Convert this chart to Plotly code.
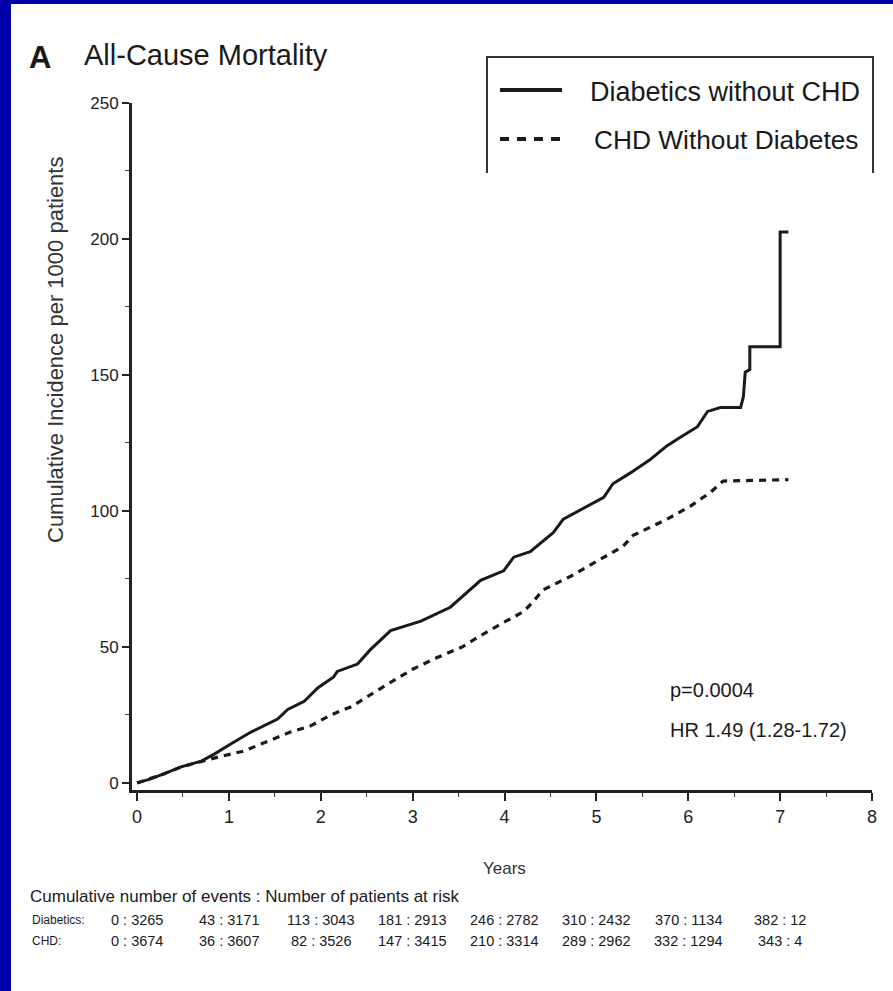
import plotly.graph_objects as go

# Cumulative incidence (per 1000 patients)
years_diab = [0.00, 0.15, 0.29, 0.48, 0.70, 0.84, 1.02, 1.24, 1.53, 1.64, 1.82, 1.97,
              2.14, 2.18, 2.40, 2.54, 2.76, 3.09, 3.41, 3.74, 3.99, 4.10, 4.28, 4.53,
              4.64, 4.86, 5.08, 5.18, 5.37, 5.59, 5.77, 5.91, 6.10, 6.21, 6.35, 6.57,
              6.60, 6.62, 6.67, 6.67, 7.00, 7.00, 7.09]
inc_diab = [0.0, 1.5, 3.3, 5.9, 8.0, 10.6, 14.3, 18.7, 23.5, 27.0, 30.0, 35.0,
            39.0, 41.0, 43.7, 49.0, 56.0, 59.5, 64.6, 74.5, 78.0, 83.0, 85.0, 92.0,
            97.0, 101.0, 105.0, 110.0, 114.0, 119.0, 124.0, 127.0, 131.0, 136.6, 138.0, 138.0,
            142.0, 151.0, 152.0, 160.4, 160.4, 202.6, 202.6]

years_chd = [0.00, 0.29, 0.48, 0.70, 0.88, 1.16, 1.42, 1.67, 1.89, 2.11, 2.33, 2.54,
             2.76, 3.00, 3.26, 3.54, 3.73, 3.99, 4.21, 4.32, 4.42, 4.72, 5.01, 5.29,
             5.40, 5.77, 6.02, 6.24, 6.38, 7.09]
inc_chd = [0.0, 3.3, 5.9, 8.0, 9.5, 11.7, 15.4, 18.7, 21.0, 25.0, 28.0, 32.5,
           37.0, 41.8, 46.0, 50.0, 54.0, 59.0, 63.0, 67.0, 71.0, 76.0, 81.5, 87.0,
           91.0, 97.0, 101.7, 106.8, 111.0, 111.5]

x_ticks = [0, 1, 2, 3, 4, 5, 6, 7, 8]
y_ticks = [0, 50, 100, 150, 200, 250]

# Numbers at risk table
risk_years = [0, 1, 2, 3, 4, 5, 6, 7]
diab_events = [0, 43, 113, 181, 246, 310, 370, 382]
diab_at_risk = [3265, 3171, 3043, 2913, 2782, 2432, 1134, 12]
chd_events = [0, 36, 82, 147, 210, 289, 332, 343]
chd_at_risk = [3674, 3607, 3526, 3415, 3314, 2962, 1294, 4]

series_names = ["Diabetics without CHD", "CHD Without Diabetes"]

W, H = 893, 991
L, R, T, B = 132, 21, 103, 201
PW, PH = W - L - R, H - T - B
FONT = "Liberation Sans, Arial, sans-serif"
INK = "#1a1a1a"
BLUE = "#0000A8"


def px(x):
    return (x - L) / PW


def py(y):
    return (H - B - y) / PH


fig = go.Figure()
fig.add_trace(go.Scatter(x=years_diab, y=inc_diab, mode="lines", name=series_names[0],
                         line=dict(color=INK, width=3)))
fig.add_trace(go.Scatter(x=years_chd, y=inc_chd, mode="lines", name=series_names[1],
                         line=dict(color=INK, width=3.2, dash="7px,6px")))

shapes = []
# slide frame: blue strips along the left and top edges
shapes.append(dict(type="rect", xref="paper", yref="paper", x0=px(0), x1=px(11),
                   y0=py(H), y1=py(0), fillcolor=BLUE, line=dict(width=0)))
shapes.append(dict(type="rect", xref="paper", yref="paper", x0=px(0), x1=px(W),
                   y0=py(4), y1=py(0), fillcolor=BLUE, line=dict(width=0)))
# legend frame (open at the bottom)
shapes.append(dict(type="path", xref="paper", yref="paper",
                   path=f"M {px(487)},{py(173)} L {px(487)},{py(57)} L {px(873)},{py(57)} L {px(873)},{py(173)}",
                   line=dict(color="#333333", width=2)))
# legend line samples
shapes.append(dict(type="line", xref="paper", yref="paper", x0=px(500), x1=px(562),
                   y0=py(90), y1=py(90), line=dict(color=INK, width=4)))
shapes.append(dict(type="line", xref="paper", yref="paper", x0=px(500), x1=px(562),
                   y0=py(139), y1=py(139), line=dict(color=INK, width=4, dash="9px,8px")))

ann = []
ann.append(dict(text="<b>A</b>", x=px(27), y=py(58), xref="paper", yref="paper",
                xanchor="left", yanchor="middle", showarrow=False,
                font=dict(family=FONT, size=31, color=INK)))
ann.append(dict(text="All-Cause Mortality", x=px(82), y=py(55), xref="paper", yref="paper",
                xanchor="left", yanchor="middle", showarrow=False,
                font=dict(family=FONT, size=29, color=INK)))
ann.append(dict(text=series_names[0], x=px(588), y=py(92), xref="paper", yref="paper",
                xanchor="left", yanchor="middle", showarrow=False,
                font=dict(family=FONT, size=27, color=INK)))
ann.append(dict(text=series_names[1], x=px(592), y=py(140), xref="paper", yref="paper",
                xanchor="left", yanchor="middle", showarrow=False,
                font=dict(family=FONT, size=26.3, color=INK)))
ann.append(dict(text="Cumulative Incidence per 1000 patients", x=px(55), y=py(350),
                xref="paper", yref="paper", textangle=-90, showarrow=False,
                xanchor="center", yanchor="middle",
                font=dict(family=FONT, size=22, color="#333333")))
ann.append(dict(text="p=0.0004", x=px(668), y=py(690), xref="paper", yref="paper",
                xanchor="left", yanchor="middle", showarrow=False,
                font=dict(family=FONT, size=20, color=INK)))
ann.append(dict(text="HR 1.49 (1.28-1.72)", x=px(668), y=py(730), xref="paper", yref="paper",
                xanchor="left", yanchor="middle", showarrow=False,
                font=dict(family=FONT, size=20, color=INK)))
ann.append(dict(text="Years", x=4, y=py(868), xref="x", yref="paper",
                xanchor="center", yanchor="middle", showarrow=False,
                font=dict(family=FONT, size=17, color="#333333")))
ann.append(dict(text="Cumulative number of events : Number of patients at risk",
                x=px(28), y=py(896), xref="paper", yref="paper",
                xanchor="left", yanchor="middle", showarrow=False,
                font=dict(family=FONT, size=17, color=INK)))
for label, yy in (("Diabetics:", 920), ("CHD:", 941)):
    ann.append(dict(text=label, x=px(30), y=py(yy), xref="paper", yref="paper",
                    xanchor="left", yanchor="middle", showarrow=False,
                    font=dict(family=FONT, size=12, color=INK)))
for t, e, n in zip(risk_years, diab_events, diab_at_risk):
    ann.append(dict(text=f"{e} : {n}", x=t, y=py(920), xref="x", yref="paper",
                    xanchor="center", yanchor="middle", showarrow=False,
                    font=dict(family=FONT, size=14.5, color=INK)))
for t, e, n in zip(risk_years, chd_events, chd_at_risk):
    ann.append(dict(text=f"{e} : {n}", x=t, y=py(941), xref="x", yref="paper",
                    xanchor="center", yanchor="middle", showarrow=False,
                    font=dict(family=FONT, size=14.5, color=INK)))

fig.update_layout(
    width=W, height=H,
    margin=dict(l=L, r=R, t=T, b=B, pad=0),
    paper_bgcolor="white", plot_bgcolor="white",
    showlegend=False,
    shapes=shapes, annotations=ann,
    xaxis=dict(range=[-0.055, 8], tickvals=x_ticks, ticks="outside", ticklen=8, tickwidth=2,
               tickcolor="#222222", showline=True, linecolor="#222222", linewidth=3,
               showgrid=False, zeroline=False,
               minor=dict(dtick=0.5, tick0=0, ticks="outside", ticklen=4, tickwidth=1,
                          tickcolor="#444444", showgrid=False),
               tickfont=dict(family=FONT, size=18, color="#222222")),
    yaxis=dict(range=[-2.6, 250], tickvals=y_ticks, ticks="outside", ticklen=7, tickwidth=2,
               tickcolor="#222222", showline=True, linecolor="#222222", linewidth=3,
               showgrid=False, zeroline=False,
               minor=dict(dtick=25, tick0=0, ticks="outside", ticklen=4, tickwidth=1,
                          tickcolor="#444444", showgrid=False),
               tickfont=dict(family=FONT, size=17, color="#222222")),
)

fig.write_html("out.html")
